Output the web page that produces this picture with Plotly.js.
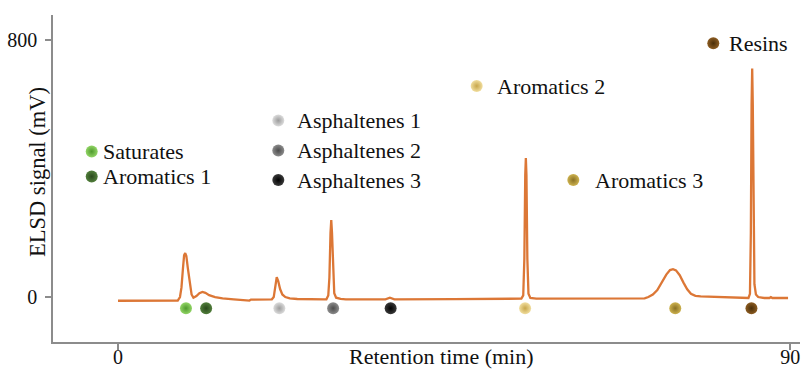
<!DOCTYPE html>
<html>
<head>
<meta charset="utf-8">
<script src="https://cdn.plot.ly/plotly-3.0.1.min.js"></script>
<style>html,body{margin:0;padding:0;background:#fff;}#chart{width:801px;height:371px;}</style>
</head>
<body>
<div id="chart"></div>
<script>
// ---- Data ----
var retentionTime = [0, 8.0, 8.3, 8.5, 8.7, 8.85, 9.0, 9.15, 9.35, 9.6, 9.85, 10.1, 10.5, 10.9, 11.3, 11.7, 12.2, 13.0, 14.0, 15.5, 17.0, 17.6, 17.8,
  20.6, 20.85, 21.05, 21.25, 21.45, 21.7, 22.0, 22.4, 23.0, 24.0, 27.6,
  27.9, 28.15, 28.3, 28.45, 28.55, 28.65, 28.8, 28.95, 29.2, 29.8, 30.5,
  35.8, 36.4, 37.0, 45.0, 53.5,
  54.0, 54.25, 54.4, 54.52, 54.6, 54.68, 54.8, 54.95, 55.2, 56.0, 65.0, 70.5,
  71.0, 71.6, 72.2, 72.8, 73.4, 73.9, 74.3, 74.7, 75.2, 75.7, 76.2, 76.7, 77.3, 78.0, 80.0, 83.0, 84.3,
  84.4, 84.6, 84.72, 84.82, 84.9, 84.98, 85.08, 85.2, 85.4, 85.7, 86.5, 87.2, 87.4, 87.6, 89.7];
var elsdSignal = [-11.5, -11, 0, 30, 90, 130, 137, 128, 90, 40, 8, -2, 3, 12, 16, 13, 6, 0, -4, -7, -9, -11, -8,
  -7, 0, 30, 62, 50, 25, 8, 0, -4, -6, -7,
  -7, 5, 60, 200, 240, 200, 70, 12, -2, -6, -7,
  -7, -2, -7, -6.5, -5,
  -5, 5, 120, 380, 433, 380, 120, 10, -3, -5, -5, -4,
  0, 8, 22, 45, 70, 84, 87, 83, 68, 45, 24, 10, 4, 2, 0, -2, -3,
  -3, 10, 200, 600, 712, 600, 200, 40, 8, 0, -3, -3, 0, -3, -3];

var fractions = ["Saturates", "Aromatics 1", "Asphaltenes 1", "Asphaltenes 2", "Asphaltenes 3", "Aromatics 2", "Aromatics 3", "Resins"];
var fractionTimes = [9.1, 11.8, 21.6, 28.8, 36.5, 54.5, 74.6, 84.8];
var xTickVals = [0, 90];
var yTickVals = [0, 800];
var xTitle = "Retention time (min)";
var yTitle = "ELSD signal (mV)";

// ---- Styles / layout constants ----
var dotLight = ["#92d566", "#527f3c", "#dcdcdc", "#8c8c8c", "#3a3a3a", "#f1de9f", "#cdb24f", "#8c5c22"];
var dotDark  = ["#4f9a2d", "#2a4a1c", "#9c9c9c", "#4c4c4c", "#000000", "#c7a64b", "#8a7124", "#4a2e08"];
var markerRowY = -35;
// label positions in pixel coordinates of the page (dot centre, text start)
var labelDotX = [91.7, 91.7, 278.3, 278.3, 278.3, 476.7, 573.3, 713.3];
var labelDotY = [151.5, 176.5, 120.5, 150.5, 180, 86, 180, 43.3];
var labelTextX = [101, 101, 295, 295, 295, 495, 593, 727];

var serif = "Liberation Serif";
var axisGray = "#8c8c8c";
var textColor = "#111111";

var traces = [
  {
    x: retentionTime, y: elsdSignal, type: "scatter", mode: "lines",
    line: {color: "#dc7736", width: 2.3}, hoverinfo: "x+y", showlegend: false
  },
  {
    x: fractionTimes, y: fractionTimes.map(function(){return markerRowY;}), type: "scatter", mode: "markers",
    text: fractions, cliponaxis: false,
    marker: {size: 12, color: dotLight, gradient: {type: "radial", color: dotDark}, line: {width: 0}},
    showlegend: false
  },
  {
    x: labelDotX, y: labelDotY, xaxis: "x2", yaxis: "y2", type: "scatter", mode: "markers",
    text: fractions, cliponaxis: false,
    marker: {size: 12, color: dotLight, gradient: {type: "radial", color: dotDark}, line: {width: 0}},
    showlegend: false, hoverinfo: "text"
  }
];

var annotations = fractions.map(function(t, i){
  return {text: t, x: labelTextX[i], y: labelDotY[i], xref: "x2", yref: "y2",
    xanchor: "left", yanchor: "middle", showarrow: false,
    font: {family: serif, size: 22, color: textColor}};
});
annotations.push({text: xTitle, x: (441 - 53) / 747, y: (342 - 356) / 327, xref: "paper", yref: "paper",
  xanchor: "center", yanchor: "middle", showarrow: false, font: {family: serif, size: 22, color: textColor}});
annotations.push({text: yTitle, x: (37 - 53) / 747, y: (342 - 172) / 327, xref: "paper", yref: "paper", textangle: -90,
  xanchor: "center", yanchor: "middle", showarrow: false, font: {family: serif, size: 22.5, color: textColor}});

var layout = {
  width: 801, height: 371,
  margin: {l: 53, r: 1, t: 15, b: 29},
  paper_bgcolor: "#ffffff", plot_bgcolor: "#ffffff",
  showlegend: false,
  font: {family: serif, color: textColor},
  xaxis: {
    range: [-8.7, 91.3], tickvals: xTickVals, ticktext: xTickVals.map(String),
    ticks: "outside", ticklen: 6, tickwidth: 1.5, tickcolor: axisGray,
    showline: true, linecolor: axisGray, linewidth: 1.5, showgrid: false, zeroline: false,
    tickfont: {family: serif, size: 20, color: textColor}, ticklabelstandoff: -10
  },
  yaxis: {
    range: [-140, 878.5], tickvals: yTickVals, ticktext: yTickVals.map(String),
    ticks: "outside", ticklen: 6, tickwidth: 1.5, tickcolor: axisGray,
    showline: true, linecolor: axisGray, linewidth: 1.5, showgrid: false, zeroline: false,
    tickfont: {family: serif, size: 20, color: textColor}, ticklabelstandoff: 4
  },
  xaxis2: {overlaying: "x", anchor: "y2", range: [53, 800], visible: false, fixedrange: true},
  yaxis2: {overlaying: "y", anchor: "x2", range: [342, 15], visible: false, fixedrange: true},
  annotations: annotations
};

Plotly.newPlot("chart", traces, layout, {displayModeBar: false});
</script>
</body>
</html>
